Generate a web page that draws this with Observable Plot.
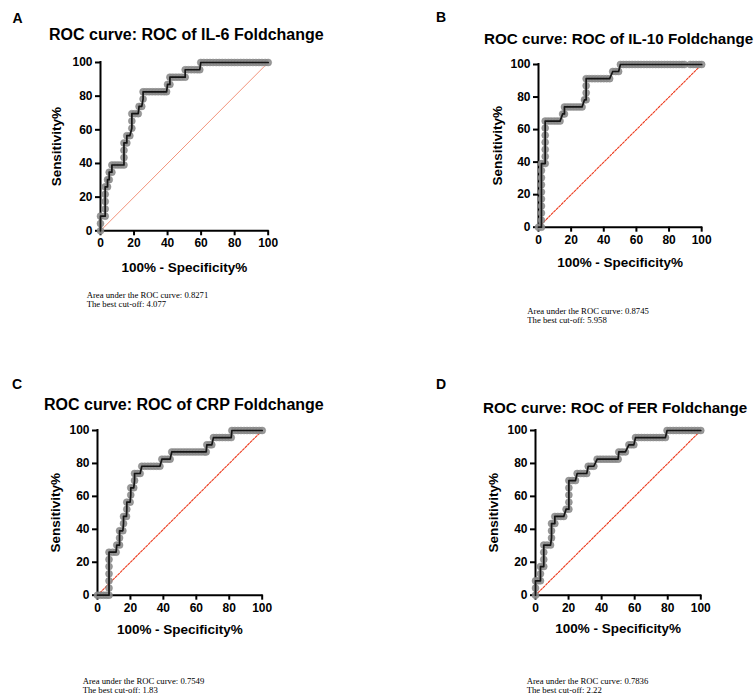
<!DOCTYPE html>
<html>
<head>
<meta charset="utf-8">
<script src="https://cdn.jsdelivr.net/npm/d3@7"></script>
<script src="https://cdn.jsdelivr.net/npm/@observablehq/plot@0.6"></script>
<style>
  html, body { margin: 0; padding: 0; background: #fff; }
  #page { position: relative; width: 756px; height: 694px; overflow: hidden; background: #fff; }
  .abs { position: absolute; white-space: nowrap; }
  .letter { font: bold 14px 'Liberation Sans', Arial, sans-serif; line-height: 14px; color: #000; }
  .title { font-family: 'Liberation Sans', Arial, sans-serif; font-weight: bold; color: #000; }
  .note { font: 8.7px 'Liberation Serif', 'Times New Roman', serif; line-height: 9px; color: #000; }
  .plot { position: absolute; }
  .plot svg { overflow: visible; }
</style>
</head>
<body>
<div id="page"></div>
<script>
// ---------- DATA ----------
const panelLetters = ["A", "B", "C", "D"];
const panelTitles = [
  "ROC curve: ROC of IL-6 Foldchange",
  "ROC curve: ROC of IL-10 Foldchange",
  "ROC curve: ROC of CRP Foldchange",
  "ROC curve: ROC of FER Foldchange"
];
const aucValues = ["0.8271", "0.8745", "0.7549", "0.7836"];
const cutoffValues = ["4.077", "5.958", "1.83", "2.22"];
const tickValues = [0, 20, 40, 60, 80, 100];
const xLabel = "100% - Specificity%";
const yLabel = "Sensitivity%";
const diagonal = [0, 100];

// ROC points: [100% - Specificity%, Sensitivity%]
const rocIL6 = [
  [0,0],[0,4.3],[0,8.7],
  [2.8,8.7],[2.8,13.0],[2.8,17.4],[2.8,21.7],[2.8,26.1],
  [4.2,26.1],[4.2,30.4],
  [5.2,30.4],[5.2,34.8],
  [6.8,34.8],[6.8,39.1],
  [8.6,39.1],[10.4,39.1],[12.2,39.1],[14.0,39.1],
  [14.0,43.5],[14.0,47.8],[14.0,52.2],
  [15.7,52.2],[15.7,56.5],
  [17.5,56.5],[18.7,60.9],[18.7,65.2],[18.7,69.6],
  [20.6,69.6],[22.5,69.6],
  [23.0,73.9],[24.6,73.9],
  [25.4,78.3],[25.4,82.6],
  [27.2,82.6],[29.0,82.6],[30.8,82.6],[32.6,82.6],[34.4,82.6],[36.2,82.6],[37.9,82.6],[39.4,82.6],
  [40.0,87.0],[41.4,87.0],[41.4,91.3],
  [43.1,91.3],[44.9,91.3],[46.7,91.3],[48.5,91.3],[50.5,91.3],
  [50.5,95.7],[52.3,95.7],[54.1,95.7],[55.9,95.7],[57.7,95.7],[59.2,95.7],
  [59.8,100],[61.6,100],[63.5,100],[65.3,100],[67.1,100],[69.0,100],[70.8,100],[72.6,100],
  [74.4,100],[76.3,100],[78.1,100],[79.9,100],[81.7,100],[83.6,100],[85.4,100],[87.2,100],
  [89.0,100],[90.9,100],[92.7,100],[94.5,100],[96.3,100],[98.2,100],[100,100]
];
const rocIL10 = [
  [0,0],[1.8,0],[1.8,4.3],[1.8,8.7],[1.8,13.0],[1.8,17.4],[1.8,21.7],[1.8,26.1],[1.8,30.4],[1.8,34.8],[1.8,39.1],
  [4.1,39.1],[4.1,43.5],[4.1,47.8],[4.1,52.2],[4.1,56.5],[4.1,60.9],[4.1,65.2],
  [5.9,65.2],[7.7,65.2],[9.6,65.2],[11.4,65.2],[13.2,65.2],
  [14.8,69.6],[15.9,69.6],[15.9,73.9],
  [17.7,73.9],[19.5,73.9],[21.3,73.9],[23.1,73.9],[24.9,73.9],[26.7,73.9],
  [28.2,78.3],[29.2,78.3],[29.2,82.6],[29.2,87.0],[29.2,91.3],
  [31.0,91.3],[32.8,91.3],[34.6,91.3],[36.4,91.3],[38.2,91.3],[40.0,91.3],[41.8,91.3],[43.6,91.3],
  [45.5,95.7],[47.3,95.7],[49.1,95.7],
  [50.2,100],[52.0,100],[53.8,100],[55.6,100],[57.4,100],[59.2,100],[61.0,100],[62.8,100],
  [64.6,100],[66.4,100],[68.2,100],[70.0,100],[71.8,100],[73.6,100],[75.4,100],[77.2,100],
  [79.0,100],[80.8,100],[82.6,100],[84.4,100],[86.2,100],[88.0,100],[89.4,100],
  [93.0,100],[94.8,100],[96.6,100],[98.4,100],[100,100]
];
const rocCRP = [
  [0,0],[1.8,0],[3.6,0],[5.4,0],[7.0,0],
  [7.0,4.3],[7.0,8.7],[7.0,13.0],[7.0,17.4],[7.0,21.7],[7.0,26.1],
  [9.2,26.1],[11.3,26.1],[11.7,30.4],[13.4,30.4],[13.4,34.8],[13.4,39.1],
  [15.4,39.1],[15.8,43.5],[15.8,47.8],[17.6,47.8],[17.8,52.2],[17.8,56.5],
  [19.8,56.5],[20.2,60.9],[20.2,65.2],[22.0,65.2],[22.5,69.6],[22.5,73.9],
  [24.3,73.9],[25.9,73.9],[26.9,78.3],
  [28.7,78.3],[30.6,78.3],[32.4,78.3],[34.2,78.3],[36.0,78.3],[37.9,78.3],
  [39.1,82.6],[40.9,82.6],[42.7,82.6],[44.1,82.6],[45.1,87.0],
  [46.9,87.0],[48.7,87.0],[50.5,87.0],[52.3,87.0],[54.1,87.0],[55.9,87.0],[57.7,87.0],
  [59.5,87.0],[61.3,87.0],[63.1,87.0],[64.9,87.0],[66.0,87.0],
  [66.4,91.3],[68.2,91.3],[69.4,91.3],[70.4,95.7],
  [72.2,95.7],[74.0,95.7],[75.8,95.7],[77.6,95.7],[79.4,95.7],[81.2,95.7],
  [81.6,100],[83.4,100],[85.3,100],[87.1,100],[89.0,100],[90.8,100],[92.6,100],[94.5,100],
  [96.3,100],[98.2,100],[100,100]
];
const rocFER = [
  [0,0],[0,4.3],[0,8.7],
  [1.5,8.7],[3.0,8.7],[3.0,13.0],[3.0,17.4],
  [5.0,17.4],[5.0,21.7],[5.0,26.1],[5.0,30.4],
  [7.0,30.4],[9.1,30.4],[9.7,34.8],[9.7,39.1],[9.7,43.5],
  [11.7,43.5],[11.7,47.8],
  [13.5,47.8],[15.3,47.8],[17.1,47.8],[18.5,52.2],[20.2,52.2],
  [20.2,56.5],[20.2,60.9],[20.2,65.2],[20.2,69.6],
  [22.2,69.6],[24.2,69.6],[25.2,73.9],
  [27.2,73.9],[29.2,73.9],[31.0,73.9],[31.9,78.3],[33.6,78.3],[35.3,78.3],[37.3,82.6],
  [39.1,82.6],[40.9,82.6],[42.7,82.6],[44.5,82.6],[46.3,82.6],[48.1,82.6],[50.0,82.6],
  [50.4,87.0],[52.4,87.0],[54.4,87.0],[56.5,91.3],[58.0,91.3],[59.5,91.3],[60.5,95.7],
  [62.3,95.7],[64.1,95.7],[65.9,95.7],[67.7,95.7],[69.5,95.7],[71.3,95.7],[73.1,95.7],
  [74.9,95.7],[76.7,95.7],[78.6,95.7],
  [79.6,100],[81.4,100],[83.3,100],[85.1,100],[87.0,100],[88.8,100],[90.7,100],[92.5,100],
  [94.4,100],[96.2,100],[98.1,100],[100,100]
];
const rocSeries = [rocIL6, rocIL10, rocCRP, rocFER];

// ---------- LAYOUT (positions / styles) ----------
const dashedRed = {stroke: "#ec3b1e", strokeWidth: 1.1, strokeDasharray: "2.2,1.4"};
const layout = [
  { frame: {l: 100, t: 62.3, w: 167.7, h: 168.3}, ylab: -44, xlab: 37, letter: [12.5, 18], title: [49, 35, 16], note: [86.7, 296],
    diag: {stroke: "#f0876c", strokeWidth: 0.9, strokeDasharray: null} },
  { frame: {l: 537.5, t: 64.3, w: 163.2, h: 162.7}, ylab: -41, xlab: 35, letter: [436, 17], title: [484, 38, 15.2], note: [527.3, 312],
    diag: dashedRed },
  { frame: {l: 97.3, t: 430.3, w: 164.7, h: 164.7}, ylab: -42, xlab: 34, letter: [12, 384], title: [44, 405.3, 16], note: [82.7, 682],
    diag: dashedRed },
  { frame: {l: 534.7, t: 430.3, w: 165.3, h: 164.7}, ylab: -42, xlab: 33, letter: [436, 384], title: [483, 407, 15.2], note: [526.7, 682],
    diag: dashedRed }
];

const page = document.getElementById("page");
function addText(cls, text, x, y) {
  const d = document.createElement("div");
  d.className = "abs " + cls;
  d.textContent = text;
  d.style.left = x + "px";
  d.style.top = y + "px";
  page.appendChild(d);
  return d;
}

const mL = 62, mR = 16, mT = 10, mB = 50;

rocSeries.forEach((pts, i) => {
  const L = layout[i];
  const f = L.frame;
  addText("letter", panelLetters[i], L.letter[0], L.letter[1] - 0.4885 * 14);
  const fs = L.title[2];
  const t = addText("title", panelTitles[i], L.title[0], L.title[1] - 0.4885 * fs);
  t.style.fontSize = fs + "px";
  t.style.lineHeight = fs + "px";
  const n = addText("note", "", L.note[0], L.note[1] - 5);
  const l1 = document.createElement("div"); l1.textContent = "Area under the ROC curve: " + aucValues[i];
  const l2 = document.createElement("div"); l2.textContent = "The best cut-off: " + cutoffValues[i];
  n.appendChild(l1); n.appendChild(l2);

  const chart = Plot.plot({
    width: mL + f.w + mR,
    height: mT + f.h + mB,
    marginLeft: mL, marginRight: mR, marginTop: mT, marginBottom: mB,
    x: {domain: [0, 100]},
    y: {domain: [0, 100]},
    style: {fontFamily: "'Liberation Sans', Arial, sans-serif", fontSize: "12px", fontWeight: "bold", color: "#000", background: "transparent", overflow: "visible"},
    marks: [
      Plot.axisX({ticks: tickValues, tickSize: 5, tickPadding: 3, strokeWidth: 2, label: null, fill: "#000"}),
      Plot.axisY({ticks: tickValues, tickSize: 5, tickPadding: 3, strokeWidth: 2, label: null, fill: "#000"}),
      Plot.ruleX([0], {stroke: "#000", strokeWidth: 2, strokeLinecap: "square"}),
      Plot.ruleY([0], {stroke: "#000", strokeWidth: 2, strokeLinecap: "square"}),
      Plot.line(diagonal, {x: d => d, y: d => d, stroke: L.diag.stroke, strokeWidth: L.diag.strokeWidth, strokeDasharray: L.diag.strokeDasharray}),
      Plot.dot(pts, {x: d => d[0], y: d => d[1], r: 3.5, fill: "#8e8e8e", fillOpacity: 0.9, stroke: "#7a7a7a", strokeWidth: 0.4}),
      Plot.line(pts, {x: d => d[0], y: d => d[1], stroke: "#151515", strokeWidth: 1.7, curve: "linear"}),
      Plot.text([xLabel], {frameAnchor: "bottom", dy: L.xlab, lineAnchor: "middle", textAnchor: "middle", fontSize: 13.5, fontWeight: "bold", fill: "#000"}),
      Plot.text([yLabel], {frameAnchor: "left", dx: L.ylab, rotate: -90, lineAnchor: "middle", textAnchor: "middle", fontSize: 13.5, fontWeight: "bold", fill: "#000"})
    ]
  });
  const holder = document.createElement("div");
  holder.className = "plot";
  holder.style.left = (f.l - mL) + "px";
  holder.style.top = (f.t - mT) + "px";
  holder.appendChild(chart);
  page.appendChild(holder);
});
</script>
</body>
</html>
